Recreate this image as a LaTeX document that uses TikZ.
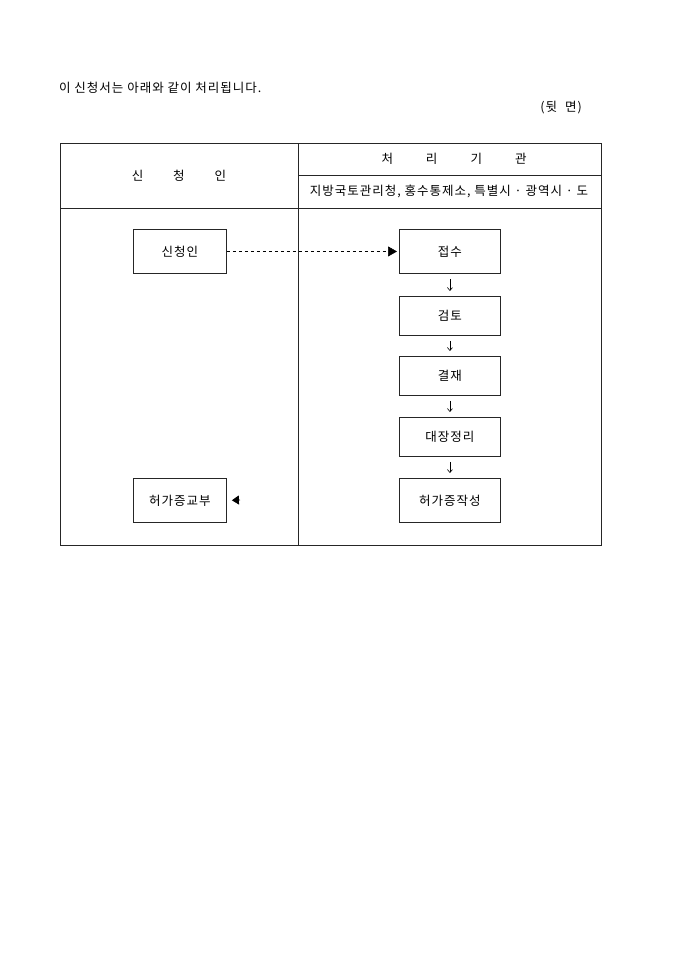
\documentclass[tikz,border=0pt]{standalone}
\usepackage{fontspec}
\setmainfont{Noto Sans CJK KR}[LetterSpace=8]
\usetikzlibrary{arrows.meta}
\begin{document}
\begin{tikzpicture}[x=1bp,y=-1bp,
  every node/.style={font=\fontsize{12.5bp}{15bp}\selectfont, inner sep=0pt},
  frame/.style={line width=0.9bp, draw=black!85},
  procbox/.style={draw=black!85, line width=0.9bp, minimum width=101bp, minimum height=44bp, anchor=north west},
  procboxs/.style={procbox, minimum height=39bp},
  appbox/.style={procbox, minimum width=93bp},
  flow/.style={line width=0.6bp, -{Straight Barb[length=3bp,width=5bp]}, shorten <=5bp, shorten >=5bp}
]
\useasboundingbox (0,0) rectangle (680,962);
\fill[white] (0,0) rectangle (680,962);

% top texts
\node[anchor=west] (intro) at (59,88) {이 신청서는 아래와 같이 처리됩니다.};
\node[anchor=east] (back) at (582,108) {(뒷\hspace{8bp}면)};

% table frame
\draw[frame] (60,143) rectangle (601,545);
\draw[frame] (298,143) -- (298,545);
\draw[frame] (60,208) -- (601,208);
\draw[frame] (298,175) -- (601,175);

% header texts
\node (hleft) at (179,176) {신\hspace{30bp}청\hspace{30bp}인};
\node (hright) at (454,159) {처\hspace{33bp}리\hspace{33bp}기\hspace{33bp}관};
\node (hsub) at (449,191) {지방국토관리청, 홍수통제소, 특별시 · 광역시 · 도};

% boxes
\node[appbox] (app) at (133,229) {};
\node at (app.center) {신청인};
\node[procbox] (recv) at (399,229) {};
\node at (recv.center) {접수};
\node[procboxs] (rev) at (399,296) {};
\node at (rev.center) {검토};
\node[procboxs] (appr) at (399,356) {};
\node at (appr.center) {결재};
\node[procboxs] (reg) at (399,417) {};
\node at (reg.center) {대장정리};
\node[procbox] (make) at (399,478) {};
\node at (make.center) {허가증작성};
\node[appbox] (issue) at (133,478) {};
\node at (issue.center) {허가증교부};

% connectors
\draw[line width=0.6bp, dash pattern=on 3bp off 3bp, -{Triangle[length=9bp,width=10bp]}, shorten >=2bp] (app.east) -- (recv.west);
\draw[flow] (recv.south) -- (rev.north);
\draw[flow] (rev.south) -- (appr.north);
\draw[flow] (appr.south) -- (reg.north);
\draw[flow] (reg.south) -- (make.north);
\coordinate (ret) at (240,500);
\draw[line width=0.8bp, -{Triangle[length=7bp,width=9bp]}, shorten >=5bp] (ret) -- (issue.east);
\end{tikzpicture}
\end{document}
